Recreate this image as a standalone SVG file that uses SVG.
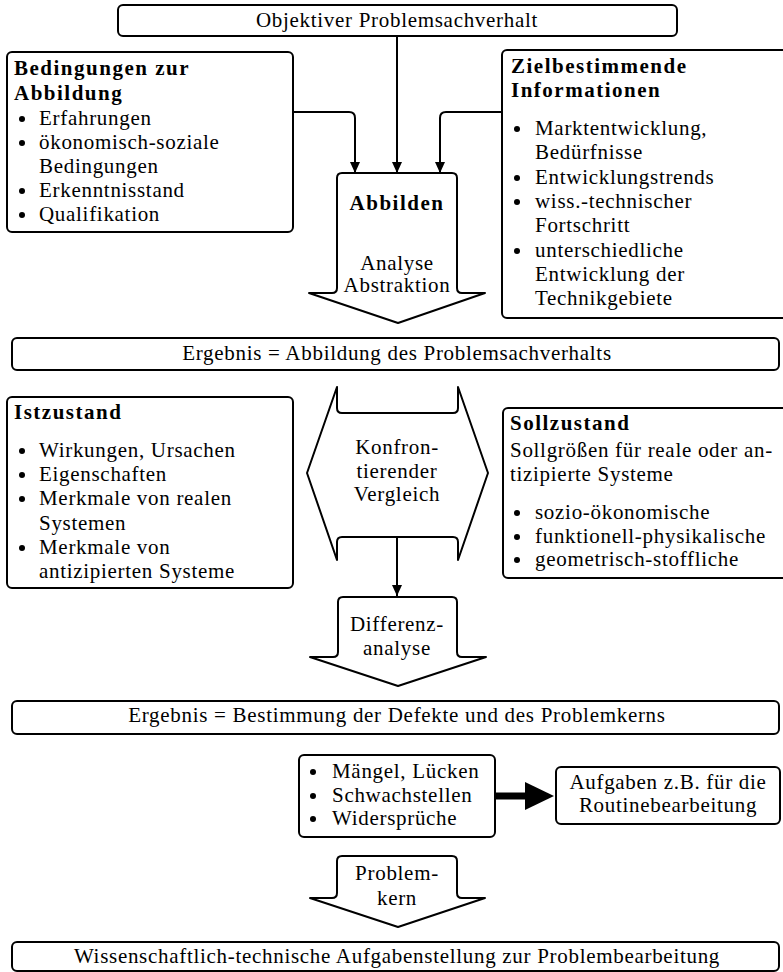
<svg xmlns="http://www.w3.org/2000/svg" width="783" height="972" viewBox="0 0 783 972">
<style>
text{font-family:'Liberation Serif','Times New Roman','DejaVu Serif',serif;font-size:21px;letter-spacing:0.7px;fill:#000}
.b{font-weight:bold;letter-spacing:1.5px}
.c{text-anchor:middle}
.box{fill:#fff;stroke:#000;stroke-width:2}
.shape{fill:#fff;stroke:#000;stroke-width:2;stroke-linejoin:round}
.con{fill:none;stroke:#000;stroke-width:2}
.dot{fill:#000}
</style>
<defs>
<marker id="ah" markerUnits="userSpaceOnUse" markerWidth="12" markerHeight="12" refX="11" refY="5" orient="auto">
<path d="M0,0 L11,5 L0,10 Z" fill="#000"/>
</marker>
</defs>
<rect width="783" height="972" fill="#fff"/>

<g id="connectors">
<path class="con" d="M293,112 H349 Q355,112 355,118 V173" marker-end="url(#ah)"/>
<path class="con" d="M397,36 V173" marker-end="url(#ah)"/>
<path class="con" d="M502,112 H446 Q440,112 440,118 V173" marker-end="url(#ah)"/>
<path class="con" d="M397,537 V596" marker-end="url(#ah)"/>
<line x1="495" y1="796" x2="527" y2="796" stroke="#000" stroke-width="7"/>
<polygon points="525,782 554,796 525,810" fill="#000"/>
</g>

<g id="top">
<rect class="box" x="118" y="5" width="559" height="31" rx="5"/>
<text class="c" x="397" y="27">Objektiver Problemsachverhalt</text>
</g>

<g id="bedingungen">
<rect class="box" x="7" y="52" width="286" height="180" rx="5"/>
<text class="b" x="14" y="75">Bedingungen zur</text>
<text class="b" x="14" y="100">Abbildung</text>
<circle class="dot" cx="22" cy="119" r="3"/><text x="39" y="125">Erfahrungen</text>
<circle class="dot" cx="22" cy="143" r="3"/><text x="39" y="149">ökonomisch-soziale</text>
<text x="39" y="173">Bedingungen</text>
<circle class="dot" cx="22" cy="191" r="3"/><text x="39" y="197">Erkenntnisstand</text>
<circle class="dot" cx="22" cy="215" r="3"/><text x="39" y="221">Qualifikation</text>
</g>

<g id="abbilden">
<path class="shape" d="M337,178 Q337,173 342,173 H452 Q457,173 457,178 V288 Q457,293 462,293 H485 L398,323 L309,293 H332 Q337,293 337,288 Z"/>
<text class="b c" x="397" y="210">Abbilden</text>
<text class="c" x="397" y="270">Analyse</text>
<text class="c" x="397" y="292">Abstraktion</text>
</g>

<g id="ziel">
<rect class="box" x="502" y="50" width="290" height="268" rx="5"/>
<text class="b" x="511" y="73">Zielbestimmende</text>
<text class="b" x="511" y="97">Informationen</text>
<circle class="dot" cx="517" cy="129" r="3"/><text x="535" y="135">Marktentwicklung,</text>
<text x="535" y="159">Bedürfnisse</text>
<circle class="dot" cx="517" cy="178" r="3"/><text x="535" y="184">Entwicklungstrends</text>
<circle class="dot" cx="517" cy="202" r="3"/><text x="535" y="208">wiss.-technischer</text>
<text x="535" y="232">Fortschritt</text>
<circle class="dot" cx="517" cy="251" r="3"/><text x="535" y="257">unterschiedliche</text>
<text x="535" y="281">Entwicklung der</text>
<text x="535" y="305">Technikgebiete</text>
</g>

<g id="ergebnis1">
<rect class="box" x="12" y="338" width="767" height="32" rx="5"/>
<text class="c" x="397" y="360">Ergebnis = Abbildung des Problemsachverhalts</text>
</g>

<g id="istzustand">
<rect class="box" x="7" y="397" width="286" height="191" rx="5"/>
<text class="b" x="14" y="419">Istzustand</text>
<circle class="dot" cx="22" cy="451" r="3"/><text x="39" y="457">Wirkungen, Ursachen</text>
<circle class="dot" cx="22" cy="475" r="3"/><text x="39" y="481">Eigenschaften</text>
<circle class="dot" cx="22" cy="499" r="3"/><text x="39" y="505">Merkmale von realen</text>
<text x="39" y="530">Systemen</text>
<circle class="dot" cx="22" cy="548" r="3"/><text x="39" y="554">Merkmale von</text>
<text x="39" y="578">antizipierten Systeme</text>
</g>

<g id="vergleich">
<path class="shape" d="M337,387 V408 Q337,413 342,413 H453 Q458,413 458,408 V387 L488,473 L458,560 V542 Q458,537 453,537 H342 Q337,537 337,542 V560 L307,473 Z"/>
<text class="c" x="397" y="454">Konfron-</text>
<text class="c" x="397" y="478">tierender</text>
<text class="c" x="397" y="501">Vergleich</text>
</g>

<g id="sollzustand">
<rect class="box" x="503" y="408" width="290" height="170" rx="5"/>
<text class="b" x="510" y="430">Sollzustand</text>
<text x="510" y="457">Sollgrößen für reale oder an-</text>
<text x="510" y="481">tizipierte Systeme</text>
<circle class="dot" cx="517" cy="513" r="3"/><text x="535" y="519">sozio-ökonomische</text>
<circle class="dot" cx="517" cy="537" r="3"/><text x="535" y="543">funktionell-physikalische</text>
<circle class="dot" cx="517" cy="560" r="3"/><text x="535" y="566">geometrisch-stoffliche</text>
</g>

<g id="differenz">
<path class="shape" d="M338,602 Q338,597 343,597 H452 Q457,597 457,602 V652 Q457,657 462,657 H486 L398,686 L310,657 H333 Q338,657 338,652 Z"/>
<text class="c" x="397" y="631">Differenz-</text>
<text class="c" x="397" y="655">analyse</text>
</g>

<g id="ergebnis2">
<rect class="box" x="12" y="701" width="767" height="33" rx="5"/>
<text class="c" x="397" y="722">Ergebnis = Bestimmung der Defekte und des Problemkerns</text>
</g>

<g id="maengel">
<rect class="box" x="299" y="755" width="196" height="82" rx="5"/>
<circle class="dot" cx="313" cy="772" r="3"/><text x="332" y="778">Mängel, Lücken</text>
<circle class="dot" cx="313" cy="796" r="3"/><text x="332" y="802">Schwachstellen</text>
<circle class="dot" cx="313" cy="819" r="3"/><text x="332" y="825">Widersprüche</text>
</g>

<g id="aufgaben">
<rect class="box" x="556" y="767" width="224" height="57" rx="5"/>
<text class="c" x="668" y="789">Aufgaben z.B. für die</text>
<text class="c" x="668" y="812">Routinebearbeitung</text>
</g>

<g id="problemkern">
<path class="shape" d="M337,861 Q337,856 342,856 H452 Q457,856 457,861 V893 Q457,898 462,898 H485 L398,927 L310,898 H332 Q337,898 337,893 Z"/>
<text class="c" x="397" y="880">Problem-</text>
<text class="c" x="397" y="905">kern</text>
</g>

<g id="final">
<rect class="box" x="12" y="942" width="767" height="29" rx="5"/>
<text class="c" x="397" y="963">Wissenschaftlich-technische Aufgabenstellung zur Problembearbeitung</text>
</g>
</svg>
